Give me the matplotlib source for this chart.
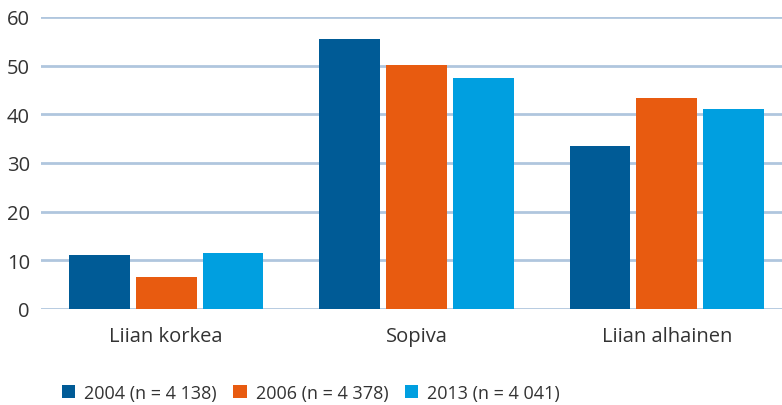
import numpy as np
import matplotlib
matplotlib.use("Agg")
import matplotlib.pyplot as plt

plt.rcParams['font.family'] = ['Open Sans', 'DejaVu Sans']

categories = ["Liian korkea", "Sopiva", "Liian alhainen"]
series_labels = ["2004 (n = 4 138)", "2006 (n = 4 378)", "2013 (n = 4 041)"]
v2004 = [11.1, 55.4, 33.5]
v2006 = [6.6, 50.1, 43.3]
v2013 = [11.5, 47.4, 41.1]
yticks = [0, 10, 20, 30, 40, 50, 60]

colors = ["#005b96", "#e85b10", "#009fe0"]

fig = plt.figure(figsize=(7.82, 4.06), dpi=100)
ax = fig.add_axes([0.0524, 0.2365, 0.9476, 0.7192])

x = np.arange(len(categories))
width = 0.243
step = 0.267
for i, (vals, lab) in enumerate(zip([v2004, v2006, v2013], series_labels)):
    ax.bar(x + (i - 1) * step, vals, width, color=colors[i], label=lab, zorder=3)

ax.set_ylim(0, 60)
ax.set_xlim(-0.5, 2.46)
ax.set_yticks(yticks)
ax.set_xticks(x)
ax.set_xticklabels(categories)
ax.yaxis.grid(True, color="#b0c6de", linewidth=2, zorder=0)
ax.tick_params(axis="both", length=0, labelsize=14.5, labelcolor="#333333")
ax.tick_params(axis="x", pad=12)
ax.tick_params(axis="y", pad=8)
for s in ax.spines.values():
    s.set_visible(False)

fig.legend(loc="center left", bbox_to_anchor=(0.079, 0.03), ncol=3, frameon=False,
           fontsize=13, handlelength=0.75, handleheight=0.75, handletextpad=0.5,
           columnspacing=0.9, labelcolor="#333333", borderaxespad=0, borderpad=0)

fig.savefig("out.png", dpi=100)
